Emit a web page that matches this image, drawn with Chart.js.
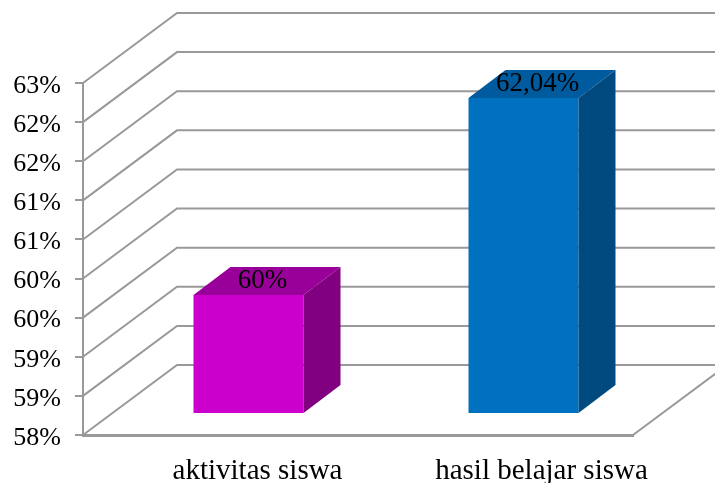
<!DOCTYPE html>
<html>
<head>
<meta charset="utf-8">
<style>
  html,body{margin:0;padding:0;background:#fff}
  canvas{display:block}
</style>
<script src="https://cdn.jsdelivr.net/npm/chart.js@4"></script>
</head>
<body>
<canvas id="c" width="715" height="483"></canvas>
<script>
const categories = ['aktivitas siswa','hasil belajar siswa'];
const values = [59.52,62.04];
const valueLabels = ['60%','62,04%'];
const frontColors = ['#CC00CC','#0070C0'];
const topColors = ['#990099','#005A9E'];
const sideColors = ['#800080','#004A7F'];
const yMin = 58, yMax = 62.5, yStep = 0.5;

const FONT = '"Liberation Serif"';
const GRID = '#999999';
// 3d look: wall depth, then how far the bars sit from the front and how deep they are
const WALL = {x:94,y:-70}, BAR_SHIFT = {x:28,y:-21}, BAR_DEPTH = {x:37,y:-28};
const LABEL_SHIFT = [37,46];

function poly(ctx,pts,color){
  ctx.fillStyle = color;
  ctx.beginPath();
  pts.forEach((p,i)=> i ? ctx.lineTo(p[0],p[1]) : ctx.moveTo(p[0],p[1]));
  ctx.closePath();
  ctx.fill();
}

const fake3d = {
  id:'fake3d',
  beforeDatasetsDraw(chart){
    const {ctx,chartArea:a,scales:{y}} = chart;
    ctx.save();
    ctx.strokeStyle = GRID;
    ctx.lineWidth = 2;
    y.ticks.forEach(t=>{
      const py = y.getPixelForValue(t.value);
      ctx.beginPath();
      ctx.moveTo(a.left,py);
      ctx.lineTo(a.left+WALL.x,py+WALL.y);
      ctx.lineTo(chart.width,py+WALL.y);
      ctx.stroke();
    });
    // floor edge on the right
    ctx.beginPath();
    ctx.moveTo(a.right,a.bottom);
    ctx.lineTo(a.right+WALL.x,a.bottom+WALL.y);
    ctx.stroke();
    ctx.restore();
    // bars stand inside the box, not on the front edge
    ctx.save();
    ctx.translate(BAR_SHIFT.x,BAR_SHIFT.y);
  },
  afterDatasetsDraw(chart){
    const {ctx,chartArea:a,scales:{x}} = chart;
    ctx.restore();
    chart.getDatasetMeta(0).data.forEach((b,i)=>{
      const l = b.x-b.width/2+BAR_SHIFT.x, r = b.x+b.width/2+BAR_SHIFT.x;
      const t = b.y+BAR_SHIFT.y, bt = b.base+BAR_SHIFT.y;
      poly(ctx,[[l,t],[r,t],[r+BAR_DEPTH.x,t+BAR_DEPTH.y],[l+BAR_DEPTH.x,t+BAR_DEPTH.y]],topColors[i]);
      poly(ctx,[[r,t],[r+BAR_DEPTH.x,t+BAR_DEPTH.y],[r+BAR_DEPTH.x,bt+BAR_DEPTH.y],[r,bt]],sideColors[i]);
      ctx.fillStyle = '#000';
      ctx.font = '27px '+FONT;
      ctx.textAlign = 'center';
      ctx.textBaseline = 'middle';
      ctx.fillText(valueLabels[i],(l+r)/2+14,t-14);
    });
    // category labels
    ctx.fillStyle = '#000';
    ctx.font = '29px '+FONT;
    ctx.textAlign = 'center';
    ctx.textBaseline = 'alphabetic';
    categories.forEach((c,i)=>{
      ctx.fillText(c,x.getPixelForTick(i)+LABEL_SHIFT[i],a.bottom+44);
    });
  }
};

new Chart(document.getElementById('c'),{
  type:'bar',
  data:{
    labels:categories,
    datasets:[{data:values,base:yMin,backgroundColor:frontColors,borderWidth:0,barPercentage:0.4,categoryPercentage:1,clip:false}]
  },
  options:{
    responsive:false,
    animation:false,
    layout:{padding:{top:83,right:82,bottom:48,left:0}},
    plugins:{legend:{display:false},tooltip:{enabled:false}},
    scales:{
      x:{
        afterFit(s){ s.height = 0; },
        grid:{display:false},
        border:{color:GRID,width:3},
        ticks:{display:false}
      },
      y:{
        min:yMin,max:yMax,
        afterFit(s){ s.width = 83; },
        grid:{drawOnChartArea:false,color:GRID,lineWidth:2,tickLength:8},
        border:{color:GRID,width:2},
        ticks:{
          stepSize:yStep,
          color:'#000',
          padding:14,
          labelOffset:3,
          font:{family:FONT,size:26},
          callback:v=>Math.round(v)+'%'
        }
      }
    }
  },
  plugins:[fake3d]
});
</script>
</body>
</html>
